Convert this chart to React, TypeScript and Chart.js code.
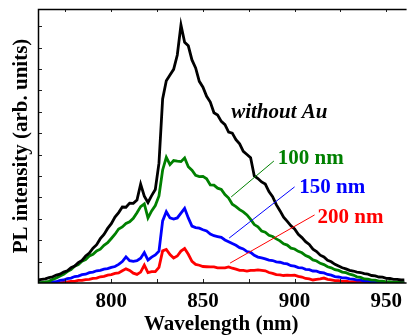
import React, { useEffect, useRef } from "react";
import { Chart, registerables } from "chart.js";
Chart.register(...registerables);

const wavelengths = [
  760, 762, 764, 766, 768, 770, 772, 774, 776, 778,
  780, 782, 784, 786, 788, 790, 792, 794, 796, 798,
  800, 802, 804, 806, 808, 810, 812, 814, 816, 818,
  820, 822, 824, 826, 828, 830, 832, 834, 836, 838,
  840, 842, 844, 846, 848, 850, 852, 854, 856, 858,
  860, 862, 864, 866, 868, 870, 872, 874, 876, 878,
  880, 882, 884, 886, 888, 890, 892, 894, 896, 898,
  900, 902, 904, 906, 908, 910, 912, 914, 916, 918,
  920, 922, 924, 926, 928, 930, 932, 934, 936, 938,
  940, 942, 944, 946, 948, 950, 952, 954, 956, 958,
  960,
];

const withoutAu = [
  0.14, 0.17, 0.19, 0.25, 0.29, 0.37, 0.41, 0.51, 0.57, 0.71,
  0.79, 0.95, 1.06, 1.26, 1.40, 1.63, 1.79, 2.07, 2.27, 2.55,
  2.77, 3.08, 3.29, 3.55, 3.54, 3.73, 3.72, 3.88, 4.62, 4.06,
  3.76, 4.08, 4.37, 5.60, 8.60, 9.45, 9.72, 9.98, 10.65, 12.05,
  11.25, 11.08, 10.42, 10.05, 9.42, 9.15, 8.72, 8.45, 7.95, 7.85,
  7.55, 7.40, 7.05, 7.00, 6.70, 6.50, 6.15, 6.00, 5.85, 5.00,
  4.88, 4.72, 4.62, 4.27, 4.03, 3.66, 3.38, 3.07, 2.88, 2.67,
  2.52, 2.27, 2.12, 1.93, 1.80, 1.58, 1.47, 1.30, 1.22, 1.06,
  0.99, 0.87, 0.79, 0.71, 0.66, 0.59, 0.56, 0.51, 0.49, 0.44,
  0.41, 0.35, 0.33, 0.28, 0.27, 0.22, 0.21, 0.17, 0.17, 0.14,
  0.15,
];

const au100 = [
  0.02, 0.03, 0.05, 0.08, 0.17, 0.23, 0.33, 0.41, 0.53, 0.63,
  0.78, 0.86, 1.02, 1.10, 1.26, 1.34, 1.50, 1.58, 1.76, 1.88,
  2.08, 2.28, 2.52, 2.62, 2.78, 2.86, 3.02, 3.28, 3.57, 3.70,
  3.04, 3.37, 3.62, 4.07, 5.28, 5.87, 5.53, 5.72, 5.69, 5.67,
  5.84, 5.43, 5.27, 5.03, 4.97, 4.98, 4.87, 4.58, 4.57, 4.43,
  4.37, 4.13, 3.97, 3.68, 3.57, 3.43, 3.32, 3.18, 2.97, 2.73,
  2.62, 2.43, 2.37, 2.23, 2.17, 2.06, 1.97, 1.83, 1.77, 1.63,
  1.59, 1.48, 1.41, 1.28, 1.21, 1.08, 1.03, 0.92, 0.86, 0.76,
  0.71, 0.62, 0.59, 0.51, 0.48, 0.41, 0.37, 0.29, 0.26, 0.19,
  0.18, 0.13, 0.13, 0.09, 0.09, 0.05, 0.06, 0.03, 0.04, 0.02,
  0.02,
];

const au150 = [
  0.00, 0.00, 0.01, 0.02, 0.05, 0.06, 0.12, 0.14, 0.20, 0.23,
  0.30, 0.32, 0.39, 0.41, 0.48, 0.51, 0.57, 0.59, 0.65, 0.67,
  0.73, 0.77, 0.87, 1.00, 1.22, 1.04, 1.01, 1.04, 1.16, 1.42,
  1.07, 1.21, 1.31, 1.49, 2.90, 3.33, 3.04, 2.99, 3.04, 3.26,
  3.49, 3.04, 2.66, 2.59, 2.56, 2.49, 2.43, 2.29, 2.21, 2.17,
  2.13, 2.01, 1.93, 1.84, 1.76, 1.65, 1.59, 1.47, 1.43, 1.29,
  1.21, 1.17, 1.13, 1.07, 1.05, 0.99, 0.97, 0.92, 0.89, 0.81,
  0.79, 0.72, 0.71, 0.64, 0.62, 0.56, 0.55, 0.49, 0.47, 0.40,
  0.37, 0.30, 0.28, 0.24, 0.24, 0.19, 0.18, 0.13, 0.13, 0.09,
  0.09, 0.05, 0.06, 0.03, 0.04, 0.02, 0.02, 0.01, 0.01, 0.00,
  0.00,
];

const au200 = [
  0.00, 0.00, 0.00, 0.00, 0.00, 0.00, 0.01, 0.03, 0.05, 0.08,
  0.08, 0.12, 0.12, 0.16, 0.17, 0.22, 0.23, 0.29, 0.31, 0.37,
  0.39, 0.45, 0.47, 0.57, 0.66, 0.59, 0.46, 0.40, 0.51, 0.84,
  0.49, 0.53, 0.53, 0.73, 1.50, 1.57, 1.33, 1.17, 1.26, 1.49,
  1.61, 1.34, 1.01, 0.87, 0.83, 0.77, 0.76, 0.75, 0.75, 0.71,
  0.71, 0.71, 0.75, 0.69, 0.65, 0.59, 0.59, 0.56, 0.59, 0.59,
  0.61, 0.59, 0.57, 0.49, 0.45, 0.39, 0.38, 0.35, 0.37, 0.36,
  0.37, 0.31, 0.28, 0.21, 0.19, 0.14, 0.17, 0.19, 0.23, 0.17,
  0.15, 0.11, 0.11, 0.08, 0.09, 0.05, 0.06, 0.03, 0.04, 0.01,
  0.02, 0.00, 0.00, 0.00, 0.00, 0.00, 0.00, 0.00, 0.00, 0.00,
  0.00,
];

const xTickLabels = [800, 850, 900, 950];
const xTickMarks = [775, 800, 825, 850, 875, 900, 925, 950];
const yTickMarks = [1, 2, 3, 4, 5, 6, 7, 8, 9, 10, 11, 12];

const seriesNames = ["without Au", "100 nm", "150 nm", "200 nm"];
const seriesColors = ["#000000", "#008000", "#0000ff", "#ff0000"];
// label anchor (wavelength, intensity) for text baseline start
const labelX = [865.4, 890.8, 902.6, 912.5];
const labelY = [7.71, 5.56, 4.19, 2.82];
// leader lines: [x1, y1, x2, y2] in data units (none for "without Au")
const leaderLines = [
  null,
  [865.4, 4.02, 888.7, 5.7],
  [864.3, 2.1, 900.0, 4.49],
  [864.8, 0.93, 910.9, 3.18],
];

const FONT = "'Liberation Serif', 'Times New Roman', serif";

const decorPlugin = {
  id: "decor",
  afterDatasetsDraw(chart: any) {
    const { ctx, scales } = chart;
    const xs = scales.x;
    const ys = scales.y;
    ctx.save();
    leaderLines.forEach((l, i) => {
      if (!l) return;
      ctx.strokeStyle = seriesColors[i];
      ctx.lineWidth = 1;
      ctx.beginPath();
      ctx.moveTo(xs.getPixelForValue(l[0]), ys.getPixelForValue(l[1]));
      ctx.lineTo(xs.getPixelForValue(l[2]), ys.getPixelForValue(l[3]));
      ctx.stroke();
    });
    seriesNames.forEach((name, i) => {
      ctx.fillStyle = seriesColors[i];
      ctx.font = (i === 0 ? "italic bold " : "bold ") + "21px " + FONT;
      ctx.textBaseline = "alphabetic";
      ctx.textAlign = "left";
      ctx.fillText(name, xs.getPixelForValue(labelX[i]), ys.getPixelForValue(labelY[i]));
    });
    ctx.restore();
  },
  afterDraw(chart: any) {
    const { ctx, chartArea: a, scales } = chart;
    const xs = scales.x;
    const ys = scales.y;
    ctx.save();
    ctx.strokeStyle = "#222";
    ctx.lineWidth = 1;
    ctx.beginPath();
    xTickMarks.forEach((v) => {
      const px = Math.round(xs.getPixelForValue(v)) + 0.5;
      ctx.moveTo(px, a.bottom);
      ctx.lineTo(px, a.bottom - 4);
      ctx.moveTo(px, a.top);
      ctx.lineTo(px, a.top + 3);
    });
    yTickMarks.forEach((v) => {
      const py = Math.round(ys.getPixelForValue(v)) + 0.5;
      ctx.moveTo(a.left, py);
      ctx.lineTo(a.left + 4, py);
    });
    ctx.stroke();
    ctx.strokeStyle = "#000";
    ctx.lineWidth = 1.5;
    ctx.beginPath();
    ctx.moveTo(a.right + 2, a.top + 0.5);
    ctx.lineTo(a.left + 0.5, a.top + 0.5);
    ctx.lineTo(a.left + 0.5, a.bottom);
    ctx.lineTo(a.right + 2, a.bottom);
    ctx.stroke();
    ctx.restore();
  },
};

export default function App() {
  const ref = useRef<HTMLCanvasElement | null>(null);
  useEffect(() => {
    if (!ref.current) return;
    const series = [withoutAu, au100, au150, au200];
    const chart = new Chart(ref.current, {
      type: "line",
      data: {
        datasets: series.map((s, i) => ({
          label: seriesNames[i],
          data: wavelengths.map((w, j) => ({ x: w, y: s[j] })),
          borderColor: seriesColors[i],
          backgroundColor: seriesColors[i],
          borderWidth: 2.8,
          pointRadius: 0,
          tension: 0,
          fill: false,
        })),
      },
      options: {
        responsive: false,
        animation: false,
        layout: { padding: { left: 0, top: 9, right: 0, bottom: 0 } },
        plugins: { legend: { display: false }, tooltip: { enabled: false } },
        scales: {
          x: {
            type: "linear",
            min: 760,
            max: 960,
            grid: { display: false, drawTicks: false },
            border: { display: false },
            afterBuildTicks: (s: any) => {
              s.ticks = xTickLabels.map((v) => ({ value: v }));
            },
            afterFit: (s: any) => {
              s.height = 53;
            },
            ticks: {
              padding: 6,
              color: "#000",
              maxRotation: 0,
              autoSkip: false,
              font: { family: FONT, size: 21, weight: "bold" },
            },
            title: {
              display: true,
              text: "Wavelength (nm)",
              color: "#000",
              font: { family: FONT, size: 21, weight: "bold", lineHeight: 1 },
              padding: { top: 0, bottom: 1 },
            },
          },
          y: {
            min: 0,
            max: 12.8,
            grid: { display: false, drawTicks: false },
            border: { display: false },
            ticks: { display: false },
            afterFit: (s: any) => {
              s.width = 38;
            },
            title: {
              display: true,
              text: "PL intensity (arb. units)",
              color: "#000",
              font: { family: FONT, size: 21, weight: "bold", lineHeight: 1 },
              padding: { top: 11, bottom: 0 },
            },
          },
        },
      },
      plugins: [decorPlugin],
    } as any);
    return () => chart.destroy();
  }, []);
  return (
    <div style={{ position: "fixed", left: 0, top: 0, width: 408, height: 336, overflow: "hidden", background: "#fff" }}>
      <canvas ref={ref} width={408} height={336} style={{ width: 408, height: 336, display: "block" }} />
    </div>
  );
}
